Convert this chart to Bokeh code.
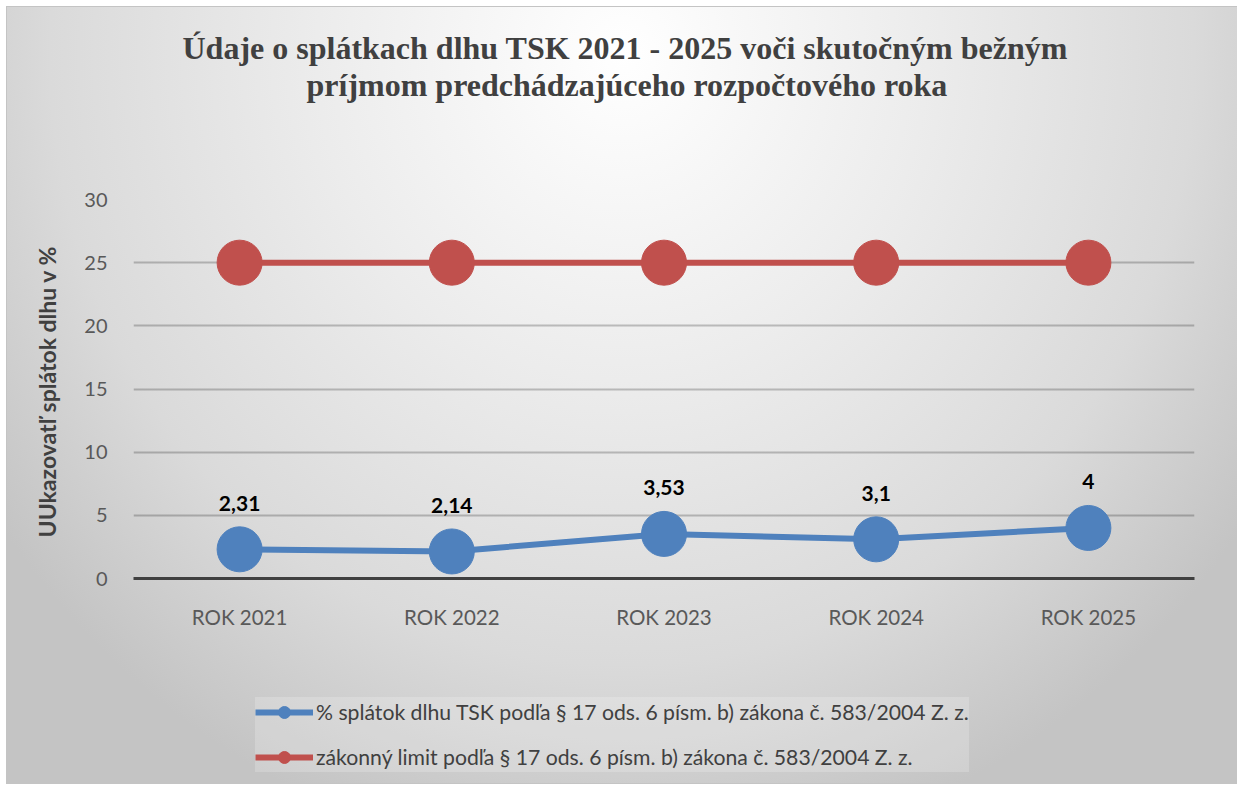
from bokeh.plotting import figure
from bokeh.layouts import column
from bokeh.models import FactorRange, Range1d, SingleIntervalTicker, Legend, LegendItem, Title
from bokeh.embed import file_html
from bokeh.resources import INLINE
from bokeh.core.properties import value

categories = ["ROK 2021", "ROK 2022", "ROK 2023", "ROK 2024", "ROK 2025"]
debt_share = [2.31, 2.14, 3.53, 3.1, 4.0]
debt_labels = ["2,31", "2,14", "3,53", "3,1", "4"]
legal_limit = [25, 25, 25, 25, 25]
series_names = [
    "% splátok dlhu TSK podľa § 17 ods. 6 písm. b) zákona č. 583/2004 Z. z.",
    "zákonný limit podľa § 17 ods. 6 písm. b) zákona č. 583/2004 Z. z.",
]
title_lines = [
    "Údaje o splátkach dlhu TSK 2021 - 2025 voči skutočným bežným",
    "príjmom predchádzajúceho rozpočtového roka",
]
y_axis_title = "UUkazovatľ splátok  dlhu v %"

BLUE = "#4f81bd"
RED = "#c0504d"

p = figure(
    x_range=FactorRange(*categories),
    y_range=Range1d(0, 30),
    width=1230, height=633,
    output_backend="svg", toolbar_location=None,
    min_border_left=126, min_border_right=43,
    min_border_top=192, min_border_bottom=62,
    background_fill_alpha=0, border_fill_alpha=0,
    outline_line_color=None,
    title=None,
)

def make_title(text, offset, standoff):
    return Title(text=text, align="left", offset=offset, standoff=standoff,
                 text_font="Liberation Serif", text_font_size="32px",
                 text_font_style="bold", text_color="#404040")

# spacer between the title block and the plot area
p.add_layout(Title(text="\u00a0", text_font_size="1px", standoff=95), "above")
p.add_layout(make_title(title_lines[1], 173, -2), "above")
p.add_layout(make_title(title_lines[0], 49, 0), "above")

# axes
p.yaxis.ticker = SingleIntervalTicker(interval=5)
p.yaxis.axis_line_color = None
p.yaxis.major_tick_line_color = None
p.yaxis.minor_tick_line_color = None
p.yaxis.major_label_text_font = "Lato"
p.yaxis.major_label_text_font_size = "20px"
p.yaxis.major_label_text_color = "#595959"
p.yaxis.major_label_standoff = 20
p.yaxis.axis_label = y_axis_title
p.yaxis.axis_label_text_font = "Lato"
p.yaxis.axis_label_text_font_size = "23px"
p.yaxis.axis_label_text_font_style = "bold"
p.yaxis.axis_label_text_color = "#404040"
p.yaxis.axis_label_standoff = 20

p.xaxis.axis_line_color = "#404040"
p.xaxis.axis_line_width = 3
p.xaxis.major_tick_line_color = None
p.xaxis.minor_tick_line_color = None
p.xaxis.major_label_text_font = "Lato"
p.xaxis.major_label_text_font_size = "20.5px"
p.xaxis.major_label_text_color = "#595959"
p.xaxis.major_label_standoff = 20

p.xgrid.grid_line_color = None
p.ygrid.grid_line_color = "#000000"
p.ygrid.grid_line_alpha = 0.22
p.ygrid.grid_line_width = 2

# series
p.line(categories, legal_limit, line_color=RED, line_width=6)
p.scatter(categories, legal_limit, size=45, fill_color=RED, line_color=RED)
p.line(categories, debt_share, line_color=BLUE, line_width=6)
p.scatter(categories, debt_share, size=45, fill_color=BLUE, line_color=BLUE)

p.text(x=categories, y=debt_share, text=debt_labels,
       text_align="center", text_baseline="middle", y_offset=-46,
       text_font=value("Lato"), text_font_style="bold",
       text_font_size="21px", text_color="#000000")

# legend strip below the chart: same series drawn with a y range that keeps
# them out of view, so only their legend swatches show
lp = figure(
    x_range=FactorRange(*categories),
    y_range=Range1d(-2, -1),
    width=1230, height=143,
    output_backend="svg", toolbar_location=None,
    x_axis_type=None, y_axis_type=None,
    min_border=0, min_border_left=0, min_border_right=0,
    min_border_top=0, min_border_bottom=0,
    background_fill_alpha=0, border_fill_alpha=0,
    outline_line_color=None,
)
lp.xgrid.visible = False
lp.ygrid.visible = False
lbl = lp.line(categories, debt_share, line_color=BLUE, line_width=6)
lbs = lp.scatter(categories, debt_share, size=45, fill_color=BLUE, line_color=BLUE)
lrl = lp.line(categories, legal_limit, line_color=RED, line_width=6)
lrs = lp.scatter(categories, legal_limit, size=45, fill_color=RED, line_color=RED)

legend = Legend(
    items=[LegendItem(label=series_names[0], renderers=[lbl, lbs]),
           LegendItem(label=series_names[1], renderers=[lrl, lrs])],
    location=(122, 11),
    background_fill_color="#ffffff", background_fill_alpha=0.2,
    border_line_color=None,
    label_text_font="Lato", label_text_font_size="21.2px",
    label_text_color="#404040",
    glyph_width=58, glyph_height=30, label_height=30,
    label_standoff=3, spacing=15, padding=6, margin=0,
)
lp.add_layout(legend)

page = column(p, lp, spacing=0)
page.styles = {
    "margin-left": "7px",
    "margin-top": "7px",
    "background": "radial-gradient(ellipse 62% 105% at 50% 6%, #ffffff 0%, #ececec 40%, #dadada 75%, #c4c4c4 100%)",
    "outline": "1px solid #c4c4c4",
}

open("out.html", "w").write(file_html(page, INLINE))
